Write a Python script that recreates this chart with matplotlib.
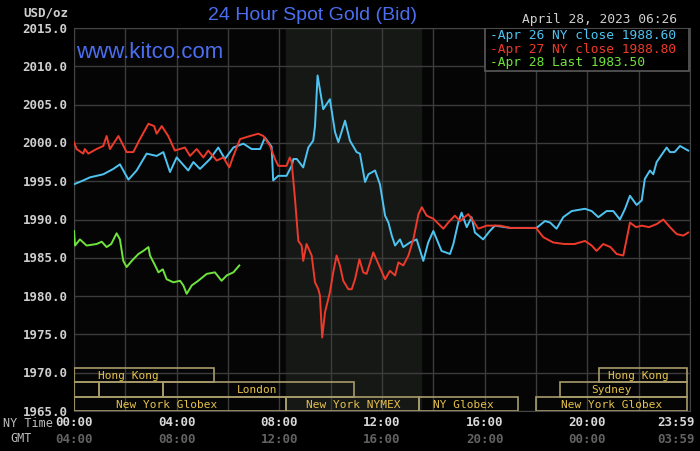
import matplotlib.pyplot as plt
from matplotlib.patches import Rectangle
from matplotlib.transforms import blended_transform_factory

# hours since 00:00 NY time and prices
blue_t = [0, 0.36, 0.62, 1.14, 1.53, 1.79, 2.12, 2.44, 2.83, 3.22,
          3.48, 3.74, 4.0, 4.45, 4.65, 4.91, 5.3, 5.62, 5.88, 6.21,
          6.6, 6.92, 7.25, 7.44, 7.7, 7.76, 7.96, 8.28, 8.48, 8.55,
          8.68, 8.93, 9.13, 9.32, 9.39, 9.49, 9.58, 9.71, 9.97, 10.17,
          10.3, 10.56, 10.75, 11.01, 11.14, 11.34, 11.47, 11.73, 11.92, 12.12,
          12.25, 12.38, 12.51, 12.7, 12.83, 13.09, 13.35, 13.61, 13.8, 14.0,
          14.32, 14.65, 14.78, 14.97, 15.1, 15.3, 15.49, 15.62, 15.94, 16.2,
          16.4, 16.8, 17.0, 18.02, 18.35, 18.55, 18.8, 19.06, 19.39, 19.91,
          20.17, 20.43, 20.75, 21.01, 21.27, 21.47, 21.66, 21.92, 22.12, 22.24,
          22.44, 22.57, 22.7, 23.09, 23.22, 23.4, 23.61, 23.93]
blue_v = [1994.6, 1995.1, 1995.5, 1995.9, 1996.6, 1997.2, 1995.2, 1996.4, 1998.6, 1998.3,
          1998.8, 1996.2, 1998.1, 1996.4, 1997.5, 1996.6, 1997.9, 1999.4, 1997.9, 1999.4,
          1999.9, 1999.2, 1999.2, 2000.7, 1999.5, 1995.1, 1995.7, 1995.7, 1997.0, 1997.9,
          1997.9, 1996.8, 1999.4, 2000.3, 2002.2, 2008.8, 2007.0, 2004.4, 2005.7, 2001.4,
          2000.1, 2002.9, 2000.3, 1998.8, 1998.6, 1994.9, 1995.9, 1996.4, 1994.6, 1990.5,
          1989.6, 1987.9, 1986.6, 1987.4, 1986.4, 1987.0, 1987.4, 1984.6, 1987.0, 1988.5,
          1985.9, 1985.5, 1986.8, 1989.6, 1990.9, 1989.0, 1990.3, 1988.3, 1987.4, 1988.5,
          1989.2, 1989.0, 1988.9, 1988.9, 1989.8, 1989.6, 1988.8, 1990.3, 1991.1, 1991.4,
          1991.1, 1990.3, 1991.1, 1991.1, 1990.0, 1991.4, 1993.1, 1991.9, 1992.5, 1995.3,
          1996.4, 1995.9, 1997.5, 1999.4, 1998.8, 1998.8, 1999.6, 1999.0]

red_t = [0, 0.1, 0.36, 0.42, 0.56, 0.88, 1.14, 1.27, 1.4, 1.73,
         2.05, 2.31, 2.57, 2.9, 3.12, 3.22, 3.42, 3.67, 3.93, 4.32,
         4.52, 4.78, 5.04, 5.23, 5.56, 5.82, 6.05, 6.21, 6.47, 6.86,
         7.18, 7.38, 7.64, 7.83, 7.96, 8.28, 8.41, 8.48, 8.61, 8.74,
         8.87, 8.93, 9.06, 9.26, 9.39, 9.52, 9.58, 9.67, 9.78, 9.97,
         10.1, 10.23, 10.36, 10.49, 10.69, 10.82, 10.95, 11.12, 11.27, 11.4,
         11.66, 11.86, 12.12, 12.31, 12.51, 12.64, 12.83, 13.03, 13.22, 13.42,
         13.55, 13.74, 14.0, 14.39, 14.58, 14.84, 15.04, 15.36, 15.56, 15.75,
         16.08, 16.6, 17.0, 18.0, 18.28, 18.67, 19.1, 19.5, 19.91, 20.17,
         20.36, 20.62, 20.9, 21.14, 21.4, 21.53, 21.66, 21.9, 22.12, 22.4,
         22.7, 22.96, 23.22, 23.48, 23.74, 23.93]
red_v = [2000.1, 1999.2, 1998.6, 1999.2, 1998.6, 1999.2, 1999.6, 2000.9, 1999.2, 2000.9,
         1998.8, 1998.8, 2000.5, 2002.5, 2002.2, 2001.2, 2002.2, 2000.9, 1999.0, 1999.4,
         1998.3, 1999.2, 1998.1, 1999.0, 1997.7, 1998.1, 1996.8, 1998.3, 2000.5, 2000.9,
         2001.2, 2000.9, 1999.6, 1997.9, 1997.0, 1997.0, 1998.1, 1997.5, 1992.7, 1987.2,
         1986.6, 1984.6, 1986.8, 1985.3, 1981.8, 1980.9, 1980.1, 1974.6, 1977.9, 1980.5,
         1983.1, 1985.3, 1984.0, 1982.0, 1980.9, 1980.9, 1982.2, 1984.8, 1983.1, 1982.9,
         1985.7, 1984.2, 1982.2, 1983.3, 1982.7, 1984.4, 1984.0, 1985.3, 1987.4, 1990.7,
         1991.6, 1990.5, 1990.1, 1988.8, 1989.6, 1990.5, 1989.8, 1990.7, 1989.8, 1988.8,
         1989.2, 1989.2, 1988.9, 1988.9, 1987.7, 1987.0, 1986.8, 1986.8, 1987.2, 1986.6,
         1985.9, 1986.8, 1986.4, 1985.5, 1985.3, 1987.4, 1989.6, 1989.0, 1989.2, 1989.0,
         1989.4, 1990.0, 1989.0, 1988.1, 1987.9, 1988.3]

green_t = [0, 0.04, 0.23, 0.49, 0.88, 1.08, 1.27, 1.45, 1.66, 1.79,
           1.92, 2.05, 2.25, 2.51, 2.7, 2.9, 2.96, 3.16, 3.29, 3.46,
           3.61, 3.87, 4.13, 4.26, 4.39, 4.59, 4.84, 5.17, 5.49, 5.75,
           5.95, 6.21, 6.44]
green_v = [1988.5, 1986.6, 1987.4, 1986.6, 1986.8, 1987.1, 1986.4, 1986.8, 1988.2, 1987.4,
           1984.6, 1983.8, 1984.6, 1985.5, 1985.9, 1986.4, 1985.3, 1984.0, 1983.1, 1983.5,
           1982.2, 1981.8, 1982.0, 1981.4, 1980.3, 1981.4, 1982.0, 1982.9, 1983.1, 1982.0,
           1982.7, 1983.1, 1984.0]

legend_lines = ["-Apr 26 NY close 1988.60", "-Apr 27 NY close 1988.80", "-Apr 28 Last 1983.50"]

ny_ticks = [0, 4, 8, 12, 16, 20, 23.983]
ny_labels = ["00:00", "04:00", "08:00", "12:00", "16:00", "20:00", "23:59"]
gmt_labels = ["04:00", "08:00", "12:00", "16:00", "20:00", "00:00", "03:59"]

# market sessions: label, start, end, row (0 = bottom), label centre
sess_names = ["Hong Kong", "", "", "London", "New York Globex", "New York NYMEX",
              "NY Globex", "New York Globex", "Hong Kong", "Sydney"]
sess_start = [0, 0, 0.96, 3.46, 0, 8.26, 13.45, 18.0, 20.45, 18.93]
sess_end = [5.47, 0.96, 3.46, 10.92, 8.26, 13.45, 17.3, 23.9, 23.9, 23.9]
sess_row = [2, 1, 1, 1, 0, 0, 0, 0, 2, 1]
sess_textx = [2.12, 0, 0, 7.13, 3.62, 10.87, 15.17, 20.95, 22.0, 20.93]

c_blue = "#4ec4f2"
c_red = "#ee3a2a"
c_green = "#6fe43c"
mono = "DejaVu Sans Mono"

fig = plt.figure(figsize=(7, 4.52), dpi=100, facecolor="black")
ax = fig.add_axes([74 / 700, 40 / 452, 616 / 700, 383 / 452])
ax.set_facecolor("#050505")
ax.set_xlim(0, 24)
ax.set_ylim(1965, 2015)

# NY trading hours shading
ax.axvspan(8.25, 13.5, color="#161816", zorder=0)

for h in range(0, 25, 2):
    ax.axvline(h, color="#3c3c3c", lw=1, zorder=1)
for v in range(1965, 2016, 5):
    ax.axhline(v, color="#3c3c3c", lw=1, zorder=1)

ax.plot(blue_t, blue_v, color=c_blue, lw=1.4, zorder=3)
ax.plot(red_t, red_v, color=c_red, lw=1.4, zorder=4)
ax.plot(green_t, green_v, color=c_green, lw=1.4, zorder=4)

row_h = 50 / 383 * 14.4
for name, s, e, r, tx in zip(sess_names, sess_start, sess_end, sess_row, sess_textx):
    y0 = 1965 + r * row_h
    ax.add_patch(Rectangle((s, y0), e - s, row_h, fill=False, ec="#a89c6a", lw=1.2, zorder=5))
    if name:
        ax.text(tx, y0 + row_h / 2, name, color="#e6c24a", fontsize=8, family=mono,
                ha="center", va="center", zorder=6)

# legend box
ax.add_patch(Rectangle((16.0, 2009.4), 7.98, 5.6, fc="black", ec="#5a5a5a", lw=1.2, zorder=7))
for i, (txt, col) in enumerate(zip(legend_lines, [c_blue, c_red, c_green])):
    ax.text(16.2, 2014.1 - i * 1.73, txt, color=col, fontsize=9.3, family=mono,
            ha="left", va="center", zorder=8)

for s in ax.spines.values():
    s.set_color("#444444")
ax.set_xticks([])
ax.set_yticks([])

for v in range(1965, 2016, 5):
    ax.text(-0.25, v, f"{v:.1f}", color="#cfcfcf", fontsize=9, family=mono,
            fontweight="bold", ha="right", va="center")

tr = blended_transform_factory(ax.transData, ax.transAxes)
for i, (t, a, b) in enumerate(zip(ny_ticks, ny_labels, gmt_labels)):
    last = i == len(ny_ticks) - 1
    xpos = 24.19 if last else t
    ha = "right" if last else "center"
    ax.text(xpos, -0.027, a, transform=tr, color="#d8d8d8", fontsize=9, family=mono,
            fontweight="bold", ha=ha, va="center")
    ax.text(xpos, -0.073, b, transform=tr, color="#626262", fontsize=9, family=mono,
            fontweight="bold", ha=ha, va="center")

fig.text(3 / 700, 1 - 424 / 452, "NY Time", color="#bdbdbd", fontsize=8.5, family=mono,
         ha="left", va="center")
fig.text(21 / 700, 1 - 439 / 452, "GMT", color="#bdbdbd", fontsize=8.5, family=mono,
         ha="center", va="center")
fig.text(68 / 700, 1 - 13 / 452, "USD/oz", color="#cfcfcf", fontsize=9, family=mono,
         fontweight="bold", ha="right", va="center")
fig.text(313 / 700, 1 - 16 / 452, "24 Hour Spot Gold (Bid)", color="#4b6ef0",
         fontsize=14, family="Liberation Sans", ha="center", va="center")
fig.text(599 / 700, 1 - 20 / 452, "April 28, 2023 06:26", color="#cfcfcf", fontsize=9.3,
         family=mono, ha="center", va="center")
ax.text(0.08, 2011.9, "www.kitco.com", color="#4b6ef0", fontsize=16,
        family="Liberation Sans", ha="left", va="center", zorder=6)

fig.savefig("out.png", dpi=100, facecolor="black")
